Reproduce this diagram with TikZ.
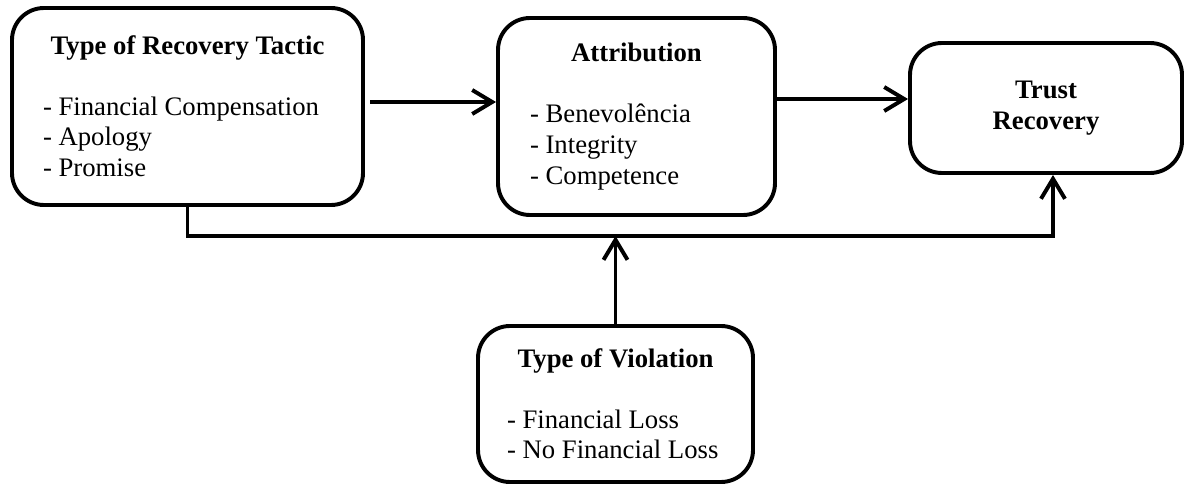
\documentclass[tikz,border=0pt]{standalone}
\usepackage{fontspec}
\setmainfont{Liberation Serif}
\usetikzlibrary{arrows.meta}
\newcommand*{\busY}{6.25}
\newcommand*{\titleGap}{21pt}

\tikzset{
	box/.style={draw, line width=2.8pt, rounded corners=0.8cm, inner sep=0pt, align=flush left,
		font=\fontsize{19}{22}\selectfont},
	conn/.style={line width=2.8pt, -{Straight Barb[length=5mm,width=6mm]}}
}

\begin{document}
\begin{tikzpicture}
	\useasboundingbox (0,0) rectangle (29.6,12.15);
	
	\node[box, minimum width=8.775cm, minimum height=4.925cm, text width=7.225cm] (tactic) at (4.6875,9.4875)
		{{\centering\bfseries Type of Recovery Tactic\par}\vspace{\titleGap}- Financial Compensation\\- Apology\\- Promise};
	\node[box, minimum width=6.925cm, minimum height=4.925cm, text width=5.325cm] (attrib) at (15.9125,9.2375)
		{{\centering\bfseries Attribution\par}\vspace{\titleGap}- Benevolência\\- Integrity\\- Competence};
	\node[box, minimum width=6.8cm, minimum height=3.25cm, align=flush center] (trust) at (26.15,9.45)
		{\bfseries Trust\\\bfseries Recovery};
	\node[box, minimum width=6.875cm, minimum height=3.9cm, text width=5.425cm] (violation) at (15.3875,2.05)
		{{\centering\bfseries Type of Violation\par}\vspace{\titleGap}- Financial Loss\\- No Financial Loss};
	
	\coordinate (tail1) at (9.25,9.6);
	\coordinate (tail2) at ([yshift=0.4375cm]attrib.east);
	\coordinate (busR) at (26.325,\busY);
	
	\draw[conn] (tail1) -- (tail1 -| attrib.west);
	\draw[conn] (tail2) -- (tail2 -| trust.west);
	
	\draw[conn] (tactic.south) |- (busR) -- (busR |- trust.south);
	\draw[conn] (violation.north) -- (violation.north |- busR);
\end{tikzpicture}
\end{document}
